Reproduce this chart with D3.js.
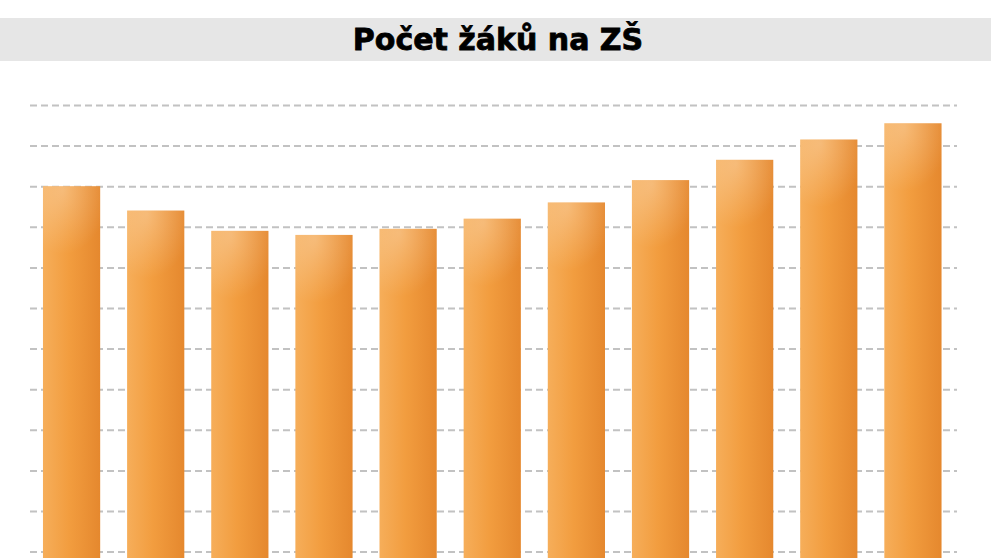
<!DOCTYPE html>
<html>
<head>
<meta charset="utf-8">
<script src="https://cdn.jsdelivr.net/npm/d3@7"></script>
<style>
  html, body { margin: 0; padding: 0; background: #fff; overflow: hidden; }
  svg { display: block; }
</style>
</head>
<body>
<div id="chart"></div>
<script>
// data (thousands of pupils)
var years = ["2005/06", "2006/07", "2007/08", "2008/09", "2009/10", "2010/11",
             "2011/12", "2012/13", "2013/14", "2014/15", "2015/16"];
var pupils = [900, 888, 878, 876, 879, 884, 892, 903, 913, 923, 931];
var gridTicks = [720, 740, 760, 780, 800, 820, 840, 860, 880, 900, 920, 940];
var title = "Počet žáků na ZŠ";

var width = 991;
var height = 558;

var svg = d3.select("#chart")
    .append("svg")
    .attr("width", width)
    .attr("height", height);

var defs = svg.append("defs");

// horizontal body shading of the bars
var lin = defs.append("linearGradient")
    .attr("id", "barBody")
    .attr("x1", "0").attr("x2", "1").attr("y1", "0").attr("y2", "0");
lin.append("stop").attr("offset", "0%").attr("stop-color", "#f6ae5a");
lin.append("stop").attr("offset", "45%").attr("stop-color", "#f29d3f");
lin.append("stop").attr("offset", "100%").attr("stop-color", "#e5882e");

// soft highlight near the top left
var rad = defs.append("radialGradient")
    .attr("id", "barGlow")
    .attr("cx", "0.35").attr("cy", "0.05").attr("r", "0.8");
rad.append("stop").attr("offset", "0%").attr("stop-color", "#fff").attr("stop-opacity", 0.28);
rad.append("stop").attr("offset", "100%").attr("stop-color", "#fff").attr("stop-opacity", 0);

// title band
svg.append("rect")
    .attr("x", 0)
    .attr("y", 18)
    .attr("width", width)
    .attr("height", 43)
    .attr("fill", "#e6e6e6");

svg.append("text")
    .attr("x", 498)
    .attr("y", 50)
    .attr("text-anchor", "middle")
    .style("font-family", "'DejaVu Sans', sans-serif")
    .style("font-weight", "bold")
    .style("font-size", "30px")
    .attr("fill", "#000")
    .attr("stroke", "#000")
    .attr("stroke-width", 0.8)
    .text(title);

var x_scale = d3.scaleBand()
    .domain(years)
    .range([29.5, 955])
    .paddingInner(0.32)
    .paddingOuter(0.16);

var y_scale = d3.scaleLinear()
    .domain([700, 940])
    .range([592.2, 105]);

// dashed grid
var y_axis = d3.axisLeft(y_scale)
    .tickValues(gridTicks)
    .tickSize(-(957 - 30))
    .tickFormat("");

svg.append("g")
    .attr("class", "grid")
    .attr("transform", "translate(30,0)")
    .call(y_axis)
    .call(function (g) { g.select(".domain").remove(); })
    .selectAll("line")
    .attr("stroke", "#c2c2c2")
    .attr("stroke-width", 2)
    .attr("stroke-dasharray", "7,4");

// bars
var bars = svg.selectAll(".bar")
    .data(pupils)
    .enter()
    .append("g")
    .attr("class", "bar");

bars.append("rect")
    .attr("x", function (d, i) { return x_scale(years[i]); })
    .attr("y", function (d) { return y_scale(d); })
    .attr("width", x_scale.bandwidth())
    .attr("height", function (d) { return y_scale(700) - y_scale(d); })
    .attr("fill", "url(#barBody)");

bars.append("rect")
    .attr("x", function (d, i) { return x_scale(years[i]); })
    .attr("y", function (d) { return y_scale(d); })
    .attr("width", x_scale.bandwidth())
    .attr("height", 80)
    .attr("fill", "url(#barGlow)");
</script>
</body>
</html>
